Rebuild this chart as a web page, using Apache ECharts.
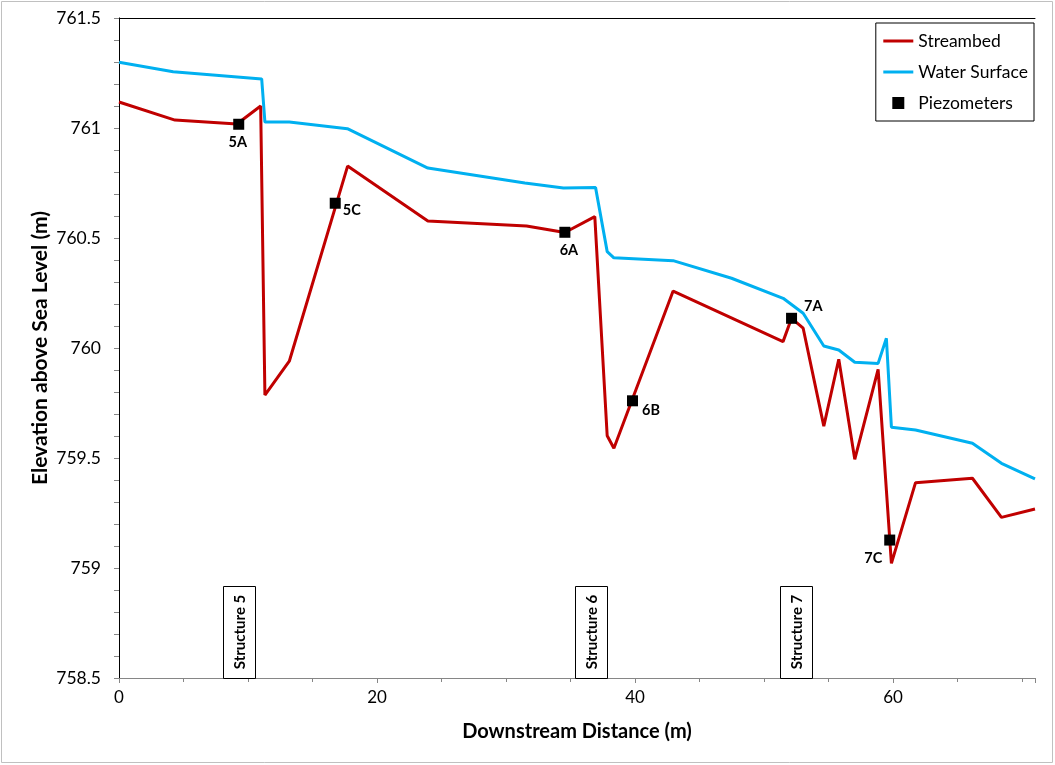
<!DOCTYPE html>
<html>
<head>
<meta charset="utf-8">
<script src="https://cdn.jsdelivr.net/npm/echarts@6/dist/echarts.min.js"></script>
<style>html,body{margin:0;padding:0;background:#fff}#c{width:1055px;height:765px}</style>
</head>
<body>
<div id="c"></div>
<script>
// Streambed profile [distance, elevation]
const streambedX = [0, 4.34, 9.14, 10.98, 11.31, 13.2, 17.72, 23.94, 31.59, 34.56, 36.88, 37.84, 38.36, 42.95, 51.47, 52.13, 53.03, 54.63, 55.79, 57.03, 58.84, 59.87, 61.74, 66.15, 68.4, 71];
const streambedY = [761.118, 761.036, 761.018, 761.1, 759.786, 759.94, 760.827, 760.577, 760.555, 760.525, 760.597, 759.601, 759.544, 760.259, 760.029, 760.135, 760.09, 759.645, 759.949, 759.494, 759.903, 759.021, 759.388, 759.408, 759.23, 759.268];
// Water surface profile
const waterX = [0, 4.2, 11.06, 11.31, 13.2, 17.7, 23.94, 31.46, 34.45, 36.94, 37.84, 38.36, 42.95, 47.48, 51.48, 53.03, 54.63, 55.79, 57.03, 58.84, 59.48, 59.87, 61.74, 66.15, 68.4, 71];
const waterY = [761.299, 761.256, 761.223, 761.027, 761.027, 760.997, 760.818, 760.75, 760.727, 760.729, 760.438, 760.41, 760.397, 760.317, 760.226, 760.158, 760.009, 759.991, 759.935, 759.93, 760.044, 759.64, 759.627, 759.567, 759.476, 759.405];
// Piezometers
const piezoNames = ['5A', '5C', '6A', '6B', '7A', '7C'];
const piezoX = [9.28, 16.76, 34.56, 39.8, 52.13, 59.74];
const piezoY = [761.017, 760.658, 760.526, 759.76, 760.135, 759.127];
// Structures
const structureNames = ['Structure 5', 'Structure 6', 'Structure 7'];
const structureX = [9.34, 36.58, 52.46];
// Axis
const xMin = 0, xMax = 71, xInterval = 20;
const yMin = 758.5, yMax = 761.5, yInterval = 0.5;

const FONT = 'Lato, "Open Sans", sans-serif';
const labelStyles = {
  '5A': {position: 'bottom', distance: 5, offset: [-1, 0]},
  '5C': {position: 'right', distance: 2, offset: [0, 7]},
  '6A': {position: 'bottom', distance: 5, offset: [4, 0]},
  '6B': {position: 'right', distance: 4, offset: [0, 10]},
  '7A': {position: 'right', distance: 7, offset: [0, -12]},
  '7C': {position: 'left', distance: 2, offset: [0, 18]}
};

const chart = echarts.init(document.getElementById('c'), null, {renderer: 'canvas'});
const zip = (xs, ys) => xs.map((x, i) => [x, ys[i]]);

const option = {
  backgroundColor: '#fff',
  animation: false,
  textStyle: {fontFamily: FONT},
  graphic: [{
    type: 'rect', shape: {x: 1.5, y: 1.5, width: 1051, height: 761},
    style: {fill: 'none', stroke: '#c0c0c0', lineWidth: 1}, silent: true, z: -1
  }],
  grid: {left: 119, top: 18, right: 20, bottom: 87, containLabel: false},
  legend: {
    orient: 'vertical', right: 21, top: 23,
    backgroundColor: '#fff', borderColor: '#000', borderWidth: 1,
    padding: [9, 6, 9, 6], itemGap: 13, itemWidth: 30, itemHeight: 12,
    textStyle: {fontFamily: FONT, fontSize: 17.5, color: '#000'},
    lineStyle: {width: 3},
    data: [
      {name: 'Streambed', itemStyle: {opacity: 0}, lineStyle: {width: 3}},
      {name: 'Water Surface', itemStyle: {opacity: 0}, lineStyle: {width: 3}},
      {name: 'Piezometers', icon: 'path://M0,0H10V10H0Z'}
    ]
  },
  xAxis: [{
    type: 'value', min: xMin, max: xMax, interval: xInterval,
    name: 'Downstream Distance (m)', nameLocation: 'middle', nameGap: 44,
    nameMoveOverlap: false,
    nameTextStyle: {fontFamily: FONT, fontSize: 20, fontWeight: 'bold', color: '#000'},
    axisLine: {show: true, lineStyle: {color: '#868686', width: 1}},
    axisTick: {show: true, length: 5, lineStyle: {color: '#868686'}},
    minorTick: {show: true, splitNumber: 4, length: 4, lineStyle: {color: '#868686'}},
    axisLabel: {fontFamily: FONT, fontSize: 17, color: '#000', margin: 11,
      formatter: v => (v % 20 === 0 ? String(v) : '')},
    splitLine: {show: false}
  }, {
    type: 'value', position: 'top', min: xMin, max: xMax,
    axisLine: {show: true, lineStyle: {color: '#000', width: 1}},
    axisTick: {show: false}, axisLabel: {show: false}, splitLine: {show: false}
  }],
  yAxis: [{
    type: 'value', min: yMin, max: yMax, interval: yInterval,
    name: 'Elevation above Sea Level (m)', nameLocation: 'middle', nameGap: 68,
    nameMoveOverlap: false,
    nameTextStyle: {fontFamily: FONT, fontSize: 21, fontWeight: 'bold', color: '#000'},
    axisLine: {show: true, lineStyle: {color: '#868686', width: 1}},
    axisTick: {show: true, length: 5, lineStyle: {color: '#868686'}},
    minorTick: {show: true, splitNumber: 5, length: 5, lineStyle: {color: '#868686'}},
    axisLabel: {fontFamily: FONT, fontSize: 17.5, color: '#000', margin: 18,
      formatter: v => String(Math.round(v * 10) / 10)},
    splitLine: {show: false}
  }, {
    type: 'value', position: 'right', min: yMin, max: yMax,
    axisLine: {show: true, lineStyle: {color: '#000', width: 1}},
    axisTick: {show: false}, axisLabel: {show: false}, splitLine: {show: false}
  }],
  series: [
    {
      name: 'Streambed', type: 'line', data: zip(streambedX, streambedY),
      symbol: 'none', showSymbol: false, z: 3,
      lineStyle: {color: '#C00000', width: 3}, itemStyle: {color: '#C00000'}
    },
    {
      name: 'Water Surface', type: 'line', data: zip(waterX, waterY),
      symbol: 'none', showSymbol: false, z: 2,
      lineStyle: {color: '#00B0F0', width: 3}, itemStyle: {color: '#00B0F0'}
    },
    {
      name: 'Piezometers', type: 'scatter', symbol: 'rect', symbolSize: 11, z: 5,
      symbolKeepAspect: true,
      itemStyle: {color: '#000', opacity: 1},
      data: piezoNames.map((n, i) => ({
        name: n, value: [piezoX[i], piezoY[i]],
        label: Object.assign({show: true, formatter: n, fontFamily: FONT, fontSize: 14.5,
          fontWeight: 'bold', color: '#000'}, labelStyles[n])
      }))
    },
    {
      name: 'Structures', type: 'custom', z: 4, silent: true,
      data: structureNames.map((n, i) => [structureX[i], yMin]),
      renderItem: function (params, api) {
        const p = api.coord([api.value(0), api.value(1)]);
        const name = structureNames[params.dataIndex];
        const w = 32, h = 92;
        return {
          type: 'group',
          children: [
            {type: 'rect', shape: {x: Math.round(p[0] - w / 2) + 0.5, y: Math.round(p[1] - h) + 0.5, width: w, height: h},
              style: {fill: '#fff', stroke: '#000', lineWidth: 1}},
            {type: 'text', x: p[0] + 1, y: p[1] - h / 2, rotation: Math.PI / 2,
              style: {text: name, fontFamily: FONT, fontSize: 15, fontWeight: 'bold', fill: '#000',
                align: 'center', verticalAlign: 'middle'}}
          ]
        };
      }
    }
  ]
};
chart.setOption(option);
</script>
</body>
</html>
